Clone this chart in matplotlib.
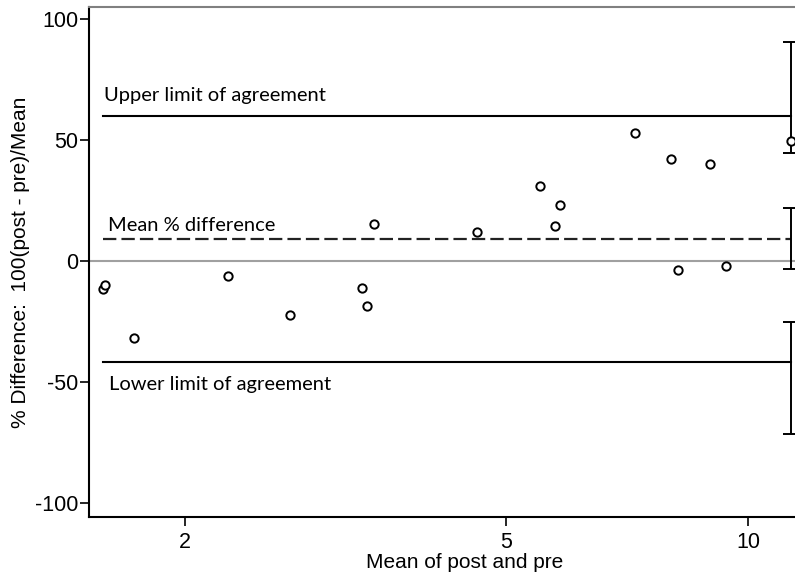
import numpy as np
import matplotlib.pyplot as plt

plt.rcParams['axes.unicode_minus'] = False

# mean of post and pre (x) vs percent difference (y)
mean_pp = [1.581, 1.592, 1.727, 2.259, 2.702, 3.318, 3.363, 3.436, 4.605,
           5.523, 5.754, 5.843, 7.246, 8.021, 8.181, 8.971, 9.391, 11.29]
pct_diff = [-11.7, -9.9, -32.0, -6.2, -22.2, -11.2, -18.5, 15.5, 12.0,
            31.1, 14.6, 23.2, 52.9, 42.1, -3.9, 40.3, -2.2, 49.6]

mean_diff = 9.0
upper_loa = 60.0
lower_loa = -41.9

# 95% confidence intervals drawn at the right-hand end
ci_x = 11.29
ci_upper = (44.6, 90.6)
ci_mean = (-3.4, 21.8)
ci_lower = (-71.4, -25.4)

line_start = 1.582

fig = plt.figure(figsize=(7.95, 5.78), dpi=100)
ax = fig.add_axes([89 / 795, 1 - 517 / 578, (840 - 89) / 795, 510 / 578])

ax.set_xscale('log')
ax.set_xlim(1.52, 13.0)
ax.set_ylim(-105.8, 105)

ax.axhline(0, color='#a0a0a0', lw=1.5, zorder=1)
ax.plot([line_start, ci_x], [upper_loa, upper_loa], color='black', lw=1.5)
ax.plot([line_start, ci_x], [lower_loa, lower_loa], color='black', lw=1.5)
ax.plot([line_start, ci_x], [mean_diff, mean_diff], color='#222222', lw=1.6,
        dashes=[6.0, 2.3])

for lo, hi in (ci_upper, ci_mean, ci_lower):
    mid = (lo + hi) / 2
    ax.errorbar([ci_x], [mid], yerr=[[mid - lo], [hi - mid]], fmt='none',
                ecolor='black', elinewidth=1.4, capsize=6, capthick=1.4)

ax.plot(mean_pp, pct_diff, 'o', mfc='white', mec='black', ms=6, mew=1.4,
        zorder=5)

txt_font = dict(family='Lato', fontsize=14.5, color='black')
ax.text(1.588, 66.1, 'Upper limit of agreement', va='baseline', **txt_font)
ax.text(1.605, 12.3, 'Mean % difference', va='baseline', **txt_font)
ax.text(1.61, -53.5, 'Lower limit of agreement', va='baseline', **txt_font)

ax.set_xticks([2, 5, 10])
ax.set_xticklabels(['2', '5', '10'])
ax.xaxis.set_minor_locator(plt.NullLocator())
ax.set_yticks([-100, -50, 0, 50, 100])

for lab in ax.get_xticklabels() + ax.get_yticklabels():
    lab.set_family('Liberation Sans')
    lab.set_fontsize(15.5)
ax.tick_params(axis='both', direction='out', length=6.5, width=1.2,
               color='black')
ax.tick_params(axis='y', pad=1)
ax.tick_params(axis='x', pad=4)

ax.set_xlabel('Mean of post and pre', family='Liberation Sans', fontsize=15,
              labelpad=0)
ax.set_ylabel('% Difference:  100(post - pre)/Mean', family='Liberation Sans',
              fontsize=15, labelpad=4)

ax.spines['left'].set_linewidth(1.5)
ax.spines['bottom'].set_linewidth(1.5)
ax.spines['top'].set_color('#808080')
ax.spines['top'].set_linewidth(1.5)
ax.spines['right'].set_visible(False)

fig.savefig('out.png', dpi=100)
